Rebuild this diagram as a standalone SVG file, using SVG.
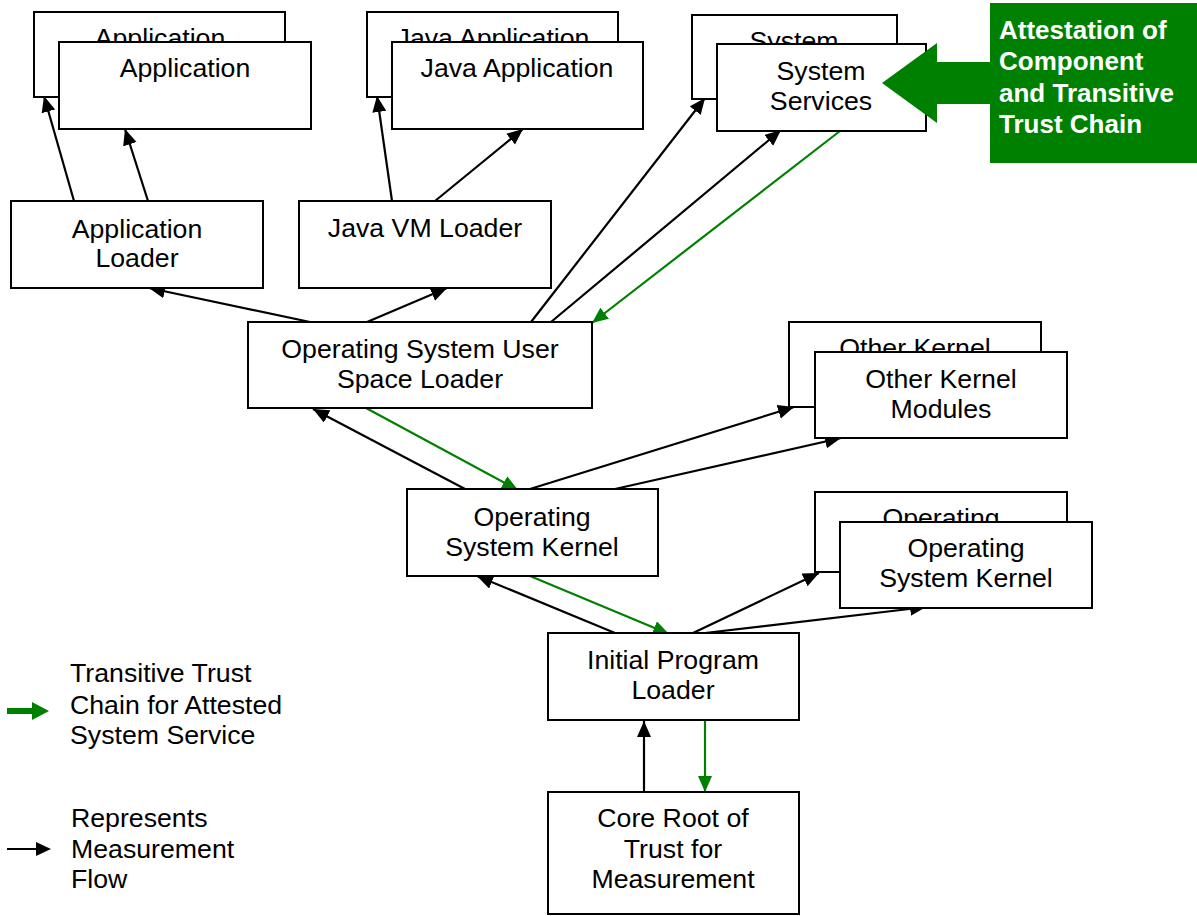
<svg xmlns="http://www.w3.org/2000/svg" width="1197" height="916" viewBox="0 0 1197 916">
  <defs>
    <style>
      .box { fill: #ffffff; stroke: #000000; stroke-width: 2; }
      .lbl { font-family: "Liberation Sans", Arial, sans-serif; font-size: 26.7px; fill: #000000; text-anchor: middle; }
      .leg { font-family: "Liberation Sans", Arial, sans-serif; font-size: 26.7px; fill: #000000; }
      .att { font-family: "Liberation Sans", Arial, sans-serif; font-size: 26px; font-weight: bold; fill: #ffffff; }
      .meas { stroke: #000000; stroke-width: 2.2; fill: none; marker-end: url(#ahBlack); }
      .trust { stroke: #008000; stroke-width: 2.2; fill: none; marker-end: url(#ahGreen); }
    </style>
    <marker id="ahBlack" markerUnits="userSpaceOnUse" markerWidth="17" markerHeight="15" refX="16" refY="7" orient="auto">
      <path d="M0,0 L16,7 L0,14 z" fill="#000000"/>
    </marker>
    <marker id="ahGreen" markerUnits="userSpaceOnUse" markerWidth="17" markerHeight="15" refX="16" refY="7" orient="auto">
      <path d="M0,0 L16,7 L0,14 z" fill="#008000"/>
    </marker>
  </defs>

  <rect width="1197" height="916" fill="#ffffff"/>

  <!-- connectors -->
  <g id="connectors">
    <!-- measurement flow -->
    <line class="meas" x1="644" y1="792" x2="644" y2="721"/>
    <line class="meas" x1="615" y1="633" x2="477" y2="576"/>
    <line class="meas" x1="693" y1="633" x2="819" y2="573"/>
    <line class="meas" x1="705" y1="633" x2="926" y2="607"/>
    <line class="meas" x1="465" y1="489" x2="313" y2="409"/>
    <line class="meas" x1="530" y1="489" x2="794" y2="407"/>
    <line class="meas" x1="615" y1="489" x2="841" y2="438"/>
    <line class="meas" x1="310" y1="322" x2="149" y2="288"/>
    <line class="meas" x1="367" y1="322" x2="447" y2="288"/>
    <line class="meas" x1="531" y1="322" x2="705" y2="98"/>
    <line class="meas" x1="551" y1="322" x2="781" y2="130"/>
    <line class="meas" x1="74" y1="201" x2="44" y2="96"/>
    <line class="meas" x1="148" y1="201" x2="125" y2="129"/>
    <line class="meas" x1="392" y1="201" x2="377" y2="96"/>
    <line class="meas" x1="435" y1="201" x2="523" y2="129"/>
    <!-- transitive trust chain -->
    <line class="trust" x1="840" y1="131" x2="592" y2="323"/>
    <line class="trust" x1="366" y1="408" x2="518" y2="490"/>
    <line class="trust" x1="530" y1="576" x2="669" y2="634"/>
    <line class="trust" x1="705" y1="720" x2="705" y2="792"/>
  </g>

  <!-- application instances -->
  <g id="application">
    <rect class="box" x="34" y="12" width="251" height="85"/>
    <text class="lbl" x="160" y="47">Application</text>
    <rect class="box" x="59" y="42" width="252" height="87"/>
    <text class="lbl" x="185" y="77">Application</text>
  </g>

  <g id="java-application">
    <rect class="box" x="367" y="12" width="251" height="85"/>
    <text class="lbl" x="493" y="47">Java Application</text>
    <rect class="box" x="392" y="42" width="251" height="87"/>
    <text class="lbl" x="517" y="77">Java Application</text>
  </g>

  <g id="system-services">
    <rect class="box" x="692" y="15" width="205" height="84"/>
    <text class="lbl" x="794" y="50">System</text>
    <rect class="box" x="717" y="44" width="209" height="87"/>
    <text class="lbl" x="821" y="80">System</text>
    <text class="lbl" x="821" y="110">Services</text>
  </g>

  <!-- attestation callout -->
  <g id="attestation">
    <rect x="990" y="3" width="207" height="160" fill="#008000"/>
    <polygon points="882,83 937,43 937,62 991,62 991,104 937,104 937,123" fill="#008000"/>
    <text class="att" x="999" y="39">Attestation of</text>
    <text class="att" x="999" y="70">Component</text>
    <text class="att" x="999" y="102">and Transitive</text>
    <text class="att" x="999" y="133">Trust Chain</text>
  </g>

  <g id="application-loader">
    <rect class="box" x="11" y="201" width="252" height="87"/>
    <text class="lbl" x="137" y="238">Application</text>
    <text class="lbl" x="137" y="267">Loader</text>
  </g>

  <g id="java-vm-loader">
    <rect class="box" x="299" y="201" width="252" height="87"/>
    <text class="lbl" x="425" y="237">Java VM Loader</text>
  </g>

  <g id="os-user-space-loader">
    <rect class="box" x="248" y="322" width="344" height="86"/>
    <text class="lbl" x="420" y="358">Operating System User</text>
    <text class="lbl" x="420" y="388">Space Loader</text>
  </g>

  <g id="other-kernel-modules">
    <rect class="box" x="789" y="322" width="252" height="85"/>
    <text class="lbl" x="915" y="357">Other Kernel</text>
    <rect class="box" x="815" y="352" width="252" height="86"/>
    <text class="lbl" x="941" y="388">Other Kernel</text>
    <text class="lbl" x="941" y="418">Modules</text>
  </g>

  <g id="os-kernel">
    <rect class="box" x="407" y="489" width="251" height="87"/>
    <text class="lbl" x="532" y="526">Operating</text>
    <text class="lbl" x="532" y="556">System Kernel</text>
  </g>

  <g id="os-kernel-alt">
    <rect class="box" x="815" y="492" width="252" height="80"/>
    <text class="lbl" x="941" y="527">Operating</text>
    <rect class="box" x="840" y="522" width="252" height="86"/>
    <text class="lbl" x="966" y="557">Operating</text>
    <text class="lbl" x="966" y="587">System Kernel</text>
  </g>

  <g id="initial-program-loader">
    <rect class="box" x="548" y="633" width="251" height="87"/>
    <text class="lbl" x="673" y="669">Initial Program</text>
    <text class="lbl" x="673" y="699">Loader</text>
  </g>

  <g id="crtm">
    <rect class="box" x="548" y="792" width="251" height="122"/>
    <text class="lbl" x="673" y="827">Core Root of</text>
    <text class="lbl" x="673" y="858">Trust for</text>
    <text class="lbl" x="673" y="888">Measurement</text>
  </g>

  <!-- legend -->
  <g id="legend">
    <rect x="7" y="708" width="26" height="6" fill="#008000"/>
    <polygon points="32,702 49,711 32,720" fill="#008000"/>
    <text class="leg" x="70" y="682">Transitive Trust</text>
    <text class="leg" x="70" y="714">Chain for Attested</text>
    <text class="leg" x="70" y="744">System Service</text>

    <line x1="7" y1="849" x2="40" y2="849" stroke="#000000" stroke-width="2.2"/>
    <polygon points="36,842 51,849 36,856" fill="#000000"/>
    <text class="leg" x="71" y="827">Represents</text>
    <text class="leg" x="71" y="858">Measurement</text>
    <text class="leg" x="71" y="888">Flow</text>
  </g>
</svg>
